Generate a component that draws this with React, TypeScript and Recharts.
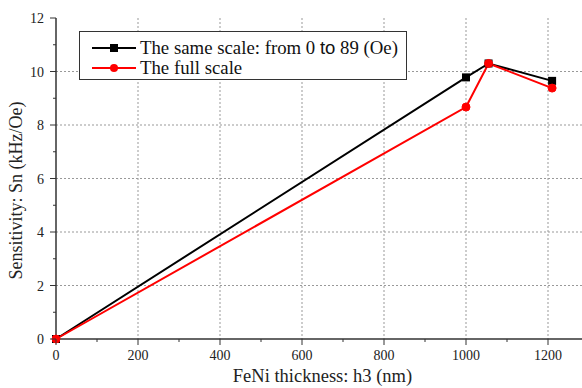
import { LineChart, Line, XAxis, YAxis, CartesianGrid, Label } from 'recharts';

const thickness = [0, 1000, 1055, 1210];
const sameScale = [0, 9.78, 10.3, 9.65];
const fullScale = [0, 8.67, 10.3, 9.38];

const xTicks = [0, 100, 200, 300, 400, 500, 600, 700, 800, 900, 1000, 1100, 1200, 1300];
const yTicks = [0, 1, 2, 3, 4, 5, 6, 7, 8, 9, 10, 11, 12];

const data = thickness.map((h, i) => ({ h, same: sameScale[i], full: fullScale[i] }));

const serif = '"Liberation Serif", "Times New Roman", serif';
const axisColor = '#333';

const BottomTick = (props: any) => {
  const { x, y, payload } = props;
  const major = payload.value % 200 === 0;
  return (
    <g>
      <line x1={x} x2={x} y1={y} y2={y + (major ? 6 : 3)} stroke={axisColor} strokeWidth={1} />
      {major && (
        <text x={x} y={y + 21} textAnchor="middle" fontSize={14} fontFamily={serif} fill="#222">
          {payload.value}
        </text>
      )}
    </g>
  );
};

const TopTick = (props: any) => {
  const { x, y, payload } = props;
  const major = payload.value % 200 === 0;
  return <line x1={x} x2={x} y1={y} y2={y + (major ? 6 : 4)} stroke={axisColor} strokeWidth={1} />;
};

const LeftTick = (props: any) => {
  const { x, y, payload } = props;
  const major = payload.value % 2 === 0;
  return (
    <g>
      <line x1={x - (major ? 6 : 3)} x2={x} y1={y} y2={y} stroke={axisColor} strokeWidth={1} />
      {major && (
        <text x={x - 12} y={y + 5} textAnchor="end" fontSize={14} fontFamily={serif} fill="#222">
          {payload.value}
        </text>
      )}
    </g>
  );
};

const SquareDot = (props: any) => {
  const { cx, cy, index } = props;
  return <rect key={`sq-${index}`} x={cx - 4} y={cy - 4} width={8} height={8} fill="#000" />;
};

const XTitle = (props: any) => {
  const { viewBox } = props;
  return (
    <text x={viewBox.x + viewBox.width / 2} y={382} textAnchor="middle" fontSize={18.5} fontFamily={serif} fill="#222">
      FeNi thickness: h3 (nm)
    </text>
  );
};

const YTitle = (props: any) => {
  const { viewBox } = props;
  const cy = viewBox.y + viewBox.height / 2 + 12;
  return (
    <text transform={`translate(22, ${cy}) rotate(-90)`} textAnchor="middle" fontSize={18} fontFamily={serif} fill="#222">
      Sensitivity: Sn (kHz/Oe)
    </text>
  );
};

function LegendBox() {
  const row = { display: 'flex', alignItems: 'center', height: 20 } as const;
  return (
    <div
      style={{
        position: 'absolute',
        left: 79,
        top: 31,
        width: 328,
        height: 49,
        border: '1px solid #333',
        background: '#fff',
        fontFamily: serif,
        fontSize: 18.8,
        color: '#111',
        paddingTop: 6,
        boxSizing: 'border-box',
      }}
    >
      <div style={row}>
        <svg width={48} height={12} style={{ marginLeft: 12, flex: 'none' }}>
          <line x1={0} x2={44} y1={6} y2={6} stroke="#000" strokeWidth={2} />
          <rect x={18} y={2} width={8} height={8} fill="#000" />
        </svg>
        <span style={{ whiteSpace: 'nowrap' }}>
          The same scale: from 0{' '}
          <span style={{ fontFamily: '"Liberation Sans", Arial, sans-serif', fontSize: 18.5 }}>to</span> 89 (Oe)
        </span>
      </div>
      <div style={row}>
        <svg width={48} height={12} style={{ marginLeft: 12, flex: 'none' }}>
          <line x1={0} x2={44} y1={6} y2={6} stroke="#ff0000" strokeWidth={2} />
          <circle cx={22} cy={6} r={4} fill="#ff0000" />
        </svg>
        <span>The full scale</span>
      </div>
    </div>
  );
}

export default function App() {
  return (
    <div style={{ position: 'absolute', left: 0, top: 0, width: 582, height: 388, overflow: 'hidden', background: '#fff' }}>
      <LineChart width={600} height={388} data={data} margin={{ top: 18, right: 11, bottom: 0, left: 0 }}>
        <CartesianGrid
          stroke="#999"
          strokeDasharray="2 2"
          verticalValues={[200, 400, 600, 800, 1000, 1200]}
          horizontalValues={[2, 4, 6, 8, 10]}
        />
        <XAxis
          dataKey="h"
          type="number"
          domain={[0, 1300]}
          ticks={xTicks}
          interval={0}
          height={49}
          tickSize={0}
          tickMargin={0}
          tickLine={false}
          tick={<BottomTick />}
          axisLine={{ stroke: axisColor, strokeWidth: 1.5 }}
        >
          <Label content={<XTitle />} />
        </XAxis>
        <XAxis
          xAxisId="top"
          orientation="top"
          dataKey="h"
          type="number"
          domain={[0, 1300]}
          ticks={xTicks}
          interval={0}
          height={0}
          tickSize={0}
          tickMargin={0}
          tickLine={false}
          tick={<TopTick />}
          axisLine={{ stroke: axisColor, strokeWidth: 1.5 }}
        />
        <YAxis
          type="number"
          domain={[0, 12]}
          ticks={yTicks}
          interval={0}
          width={56}
          tickSize={0}
          tickMargin={0}
          tickLine={false}
          tick={<LeftTick />}
          axisLine={{ stroke: axisColor, strokeWidth: 1.5 }}
        >
          <Label content={<YTitle />} />
        </YAxis>
        <Line
          type="linear"
          dataKey="same"
          stroke="#000"
          strokeWidth={2}
          dot={<SquareDot />}
          activeDot={false}
          isAnimationActive={false}
        />
        <Line
          type="linear"
          dataKey="full"
          stroke="#ff0000"
          strokeWidth={2}
          dot={{ r: 4, fill: '#ff0000', stroke: '#ff0000', strokeWidth: 1 }}
          activeDot={false}
          isAnimationActive={false}
        />
      </LineChart>
      <LegendBox />
    </div>
  );
}
